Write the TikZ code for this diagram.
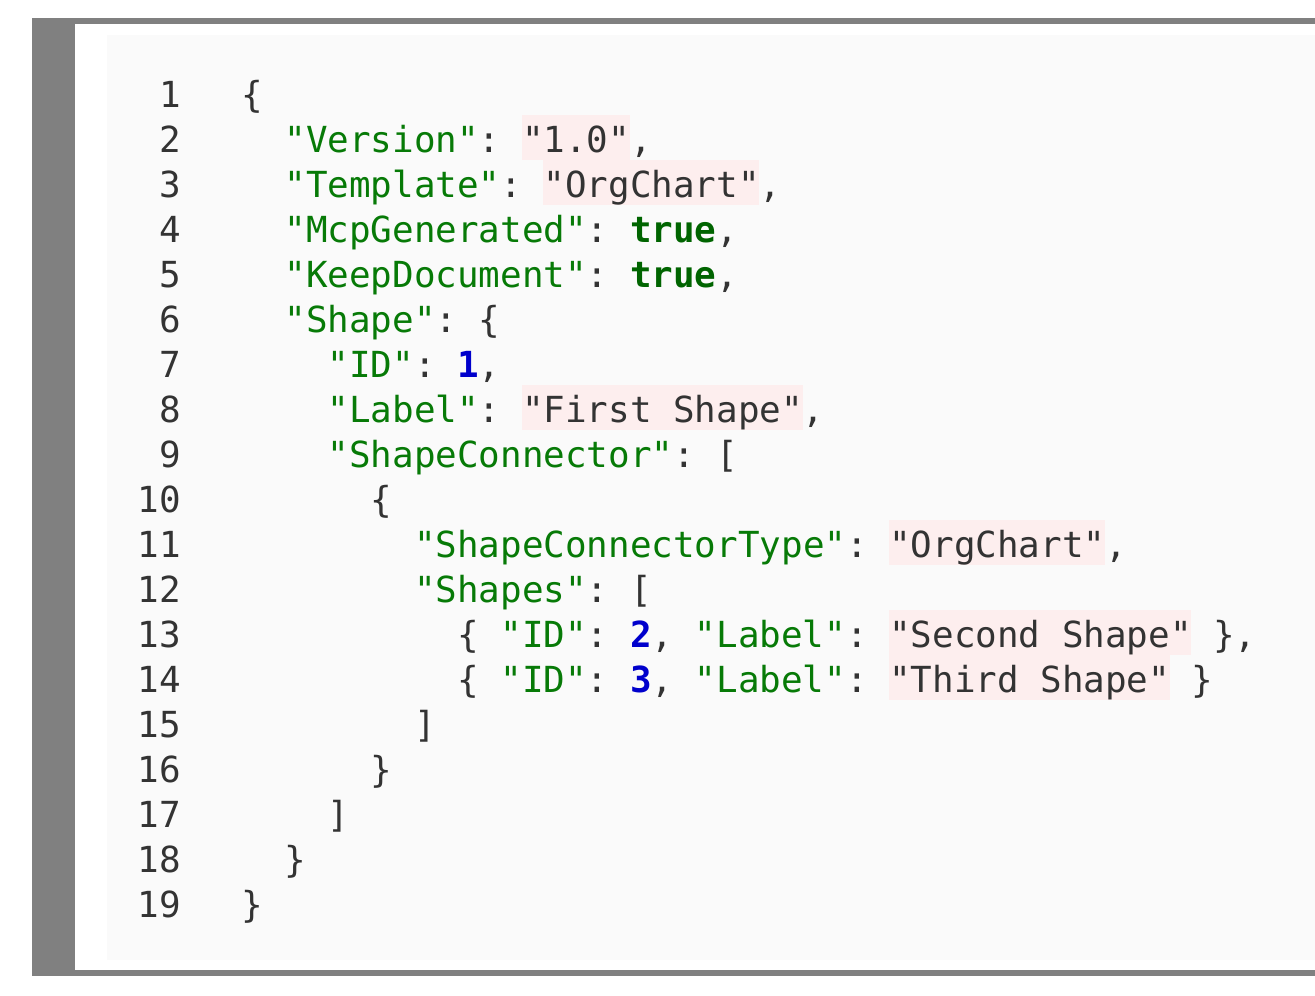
\documentclass[tikz,border=0pt]{standalone}
\usepackage{fontspec}
\setmonofont{DejaVu Sans Mono}
\definecolor{frame}{HTML}{808080}
\definecolor{codebg}{HTML}{FAFAFA}
\definecolor{pinkhl}{HTML}{FDEEEE}
\definecolor{keyg}{HTML}{077A07}
\definecolor{trueg}{HTML}{006400}
\definecolor{numb}{HTML}{0000CC}
\definecolor{txt}{HTML}{333333}
\newcommand\cw{21.6}
\newcommand\by[1]{(107+45*(#1-1))}
\newcommand\tk[4]{\node[tok,text=#3] (t#1-#2) at ({241+\cw*#2},{-\by{#1}}) {#4};}
\newcommand\hlb[3]{\fill[pinkhl] ({241+\cw*#2},{-(\by{#1}-37)}) rectangle ({241+\cw*(#2+#3)},{-(\by{#1}+8)});}
\newcommand\lnum[1]{\node[lnumst] (n#1) at (181,{-\by{#1}}) {#1};}
\begin{document}
\begin{tikzpicture}[x=1pt,y=1pt,
  tok/.style={anchor=base west,inner sep=0pt,font=\fontsize{35.9}{40}\selectfont\ttfamily},
  lnumst/.style={anchor=base east,inner sep=0pt,text=txt,font=\fontsize{35.9}{40}\selectfont\ttfamily},
  bold/.style={font=\fontsize{35.9}{40}\selectfont\ttfamily\bfseries}]
\useasboundingbox (0,0) rectangle (1315,-996);
\fill[white] (0,0) rectangle (1315,-996);
\fill[frame] (32,-18) rectangle (1315,-976);
\fill[white] (75,-24) rectangle (1315,-970);
\fill[codebg] (107,-35) rectangle (1315,-960);
% highlights
\hlb{2}{13}{5}
\hlb{3}{14}{10}
\hlb{8}{13}{13}
\hlb{11}{30}{10}
\hlb{13}{30}{14}
\hlb{14}{30}{13}
% line numbers
\foreach \i in {1,...,19} {\lnum{\i}}
% code
\tk{1}{0}{txt}{\{}
\tk{2}{2}{keyg}{"Version"}\tk{2}{11}{txt}{:}\tk{2}{13}{txt}{"1.0"}\tk{2}{18}{txt}{,}
\tk{3}{2}{keyg}{"Template"}\tk{3}{12}{txt}{:}\tk{3}{14}{txt}{"OrgChart"}\tk{3}{24}{txt}{,}
\tk{4}{2}{keyg}{"McpGenerated"}\tk{4}{16}{txt}{:}\node[tok,bold,text=trueg] (t4-18) at ({241+\cw*18},{-\by{4}}) {true};\tk{4}{22}{txt}{,}
\tk{5}{2}{keyg}{"KeepDocument"}\tk{5}{16}{txt}{:}\node[tok,bold,text=trueg] (t5-18) at ({241+\cw*18},{-\by{5}}) {true};\tk{5}{22}{txt}{,}
\tk{6}{2}{keyg}{"Shape"}\tk{6}{9}{txt}{:}\tk{6}{11}{txt}{\{}
\tk{7}{4}{keyg}{"ID"}\tk{7}{8}{txt}{:}\node[tok,bold,text=numb] (t7-10) at ({241+\cw*10},{-\by{7}}) {1};\tk{7}{11}{txt}{,}
\tk{8}{4}{keyg}{"Label"}\tk{8}{11}{txt}{:}\tk{8}{13}{txt}{"First Shape"}\tk{8}{26}{txt}{,}
\tk{9}{4}{keyg}{"ShapeConnector"}\tk{9}{20}{txt}{:}\tk{9}{22}{txt}{[}
\tk{10}{6}{txt}{\{}
\tk{11}{8}{keyg}{"ShapeConnectorType"}\tk{11}{28}{txt}{:}\tk{11}{30}{txt}{"OrgChart"}\tk{11}{40}{txt}{,}
\tk{12}{8}{keyg}{"Shapes"}\tk{12}{16}{txt}{:}\tk{12}{18}{txt}{[}
\tk{13}{10}{txt}{\{}\tk{13}{12}{keyg}{"ID"}\tk{13}{16}{txt}{:}\node[tok,bold,text=numb] (t13-18) at ({241+\cw*18},{-\by{13}}) {2};\tk{13}{19}{txt}{,}\tk{13}{21}{keyg}{"Label"}\tk{13}{28}{txt}{:}\tk{13}{30}{txt}{"Second Shape"}\tk{13}{45}{txt}{\}}\tk{13}{46}{txt}{,}
\tk{14}{10}{txt}{\{}\tk{14}{12}{keyg}{"ID"}\tk{14}{16}{txt}{:}\node[tok,bold,text=numb] (t14-18) at ({241+\cw*18},{-\by{14}}) {3};\tk{14}{19}{txt}{,}\tk{14}{21}{keyg}{"Label"}\tk{14}{28}{txt}{:}\tk{14}{30}{txt}{"Third Shape"}\tk{14}{44}{txt}{\}}
\tk{15}{8}{txt}{]}
\tk{16}{6}{txt}{\}}
\tk{17}{4}{txt}{]}
\tk{18}{2}{txt}{\}}
\tk{19}{0}{txt}{\}}
\end{tikzpicture}
\end{document}
